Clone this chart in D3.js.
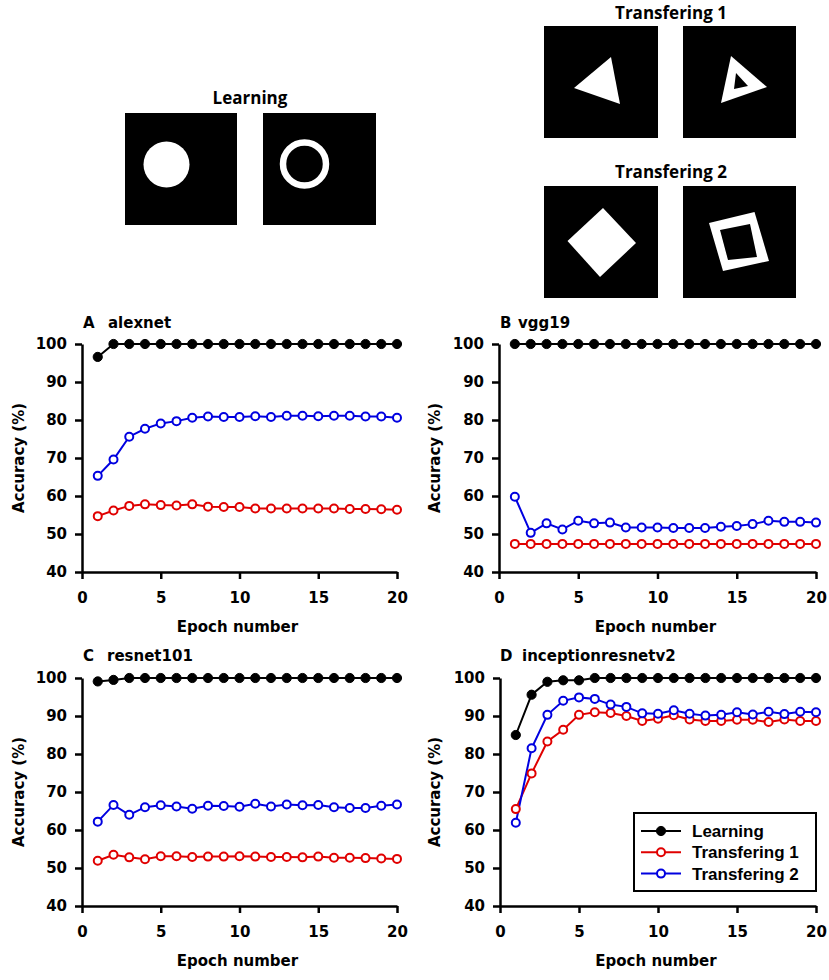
<!DOCTYPE html>
<html><head><meta charset="utf-8">
<script src="https://cdn.jsdelivr.net/npm/d3@7"></script>
<style>body{margin:0;background:#fff}</style>
</head><body>
<script>
// ---------- data ----------
const epochs = [1,2,3,4,5,6,7,8,9,10,11,12,13,14,15,16,17,18,19,20];
const xTicks = [0,5,10,15,20];
const yTicks = [40,50,60,70,80,90,100];
const seriesNames = ["Learning","Transfering 1","Transfering 2"];
const seriesColors = ["#000000","#e00000","#0000e0"];

const alexnetLearning = [96.6,100,100,100,100,100,100,100,100,100,100,100,100,100,100,100,100,100,100,100];
const alexnetT1 = [54.7,56.2,57.4,57.8,57.6,57.5,57.8,57.2,57.1,57.1,56.7,56.7,56.7,56.7,56.7,56.7,56.6,56.6,56.5,56.4];
const alexnetT2 = [65.3,69.6,75.6,77.7,79.1,79.7,80.6,80.9,80.8,80.8,81.0,80.8,81.1,81.1,81.0,81.1,81.1,80.9,80.9,80.6];

const vggLearning = [100,100,100,100,100,100,100,100,100,100,100,100,100,100,100,100,100,100,100,100];
const vggT1 = [47.4,47.4,47.4,47.4,47.4,47.4,47.4,47.4,47.4,47.4,47.4,47.4,47.4,47.4,47.4,47.4,47.4,47.4,47.4,47.4];
const vggT2 = [59.8,50.3,52.8,51.2,53.5,52.8,53.0,51.7,51.7,51.7,51.6,51.6,51.6,51.9,52.1,52.6,53.5,53.2,53.2,53.0];

const resnetLearning = [99.1,99.5,100,100,100,100,100,100,100,100,100,100,100,100,100,100,100,100,100,100];
const resnetT1 = [51.9,53.5,52.8,52.3,53.1,53.1,52.9,53.0,53.0,53.1,53.0,52.9,52.9,52.8,53.0,52.7,52.7,52.6,52.5,52.4];
const resnetT2 = [62.2,66.6,64.0,66.0,66.5,66.2,65.6,66.4,66.3,66.1,66.9,66.2,66.7,66.5,66.6,66.0,65.8,65.8,66.4,66.7];

const inceptionLearning = [85.0,95.6,99.0,99.4,99.4,100,100,100,100,100,100,100,100,100,100,100,100,100,100,100];
const inceptionT1 = [65.5,74.9,83.3,86.4,90.3,91.0,90.8,90.0,88.7,89.3,90.2,89.1,88.7,88.7,89.0,89.0,88.4,89.1,88.7,88.7];
const inceptionT2 = [61.9,81.5,90.3,94.0,94.9,94.5,93.0,92.4,90.7,90.6,91.5,90.6,90.1,90.3,91.0,90.4,91.1,90.5,91.1,91.0];

const panelLetters = ["A","B","C","D"];
const panelNames = ["alexnet","vgg19","resnet101","inceptionresnetv2"];

// ---------- drawing ----------
const svg = d3.select("body").append("svg").attr("width",829).attr("height",980)
  .style("font-family","'DejaVu Sans', sans-serif");

// Stimulus images
const imgFont = "'Open Sans', sans-serif";
function stimTitle(text, x, y){
  svg.append("text").attr("x",x).attr("y",y).attr("text-anchor","middle")
    .style("font-family",imgFont).style("font-weight","bold").style("font-size","17px").text(text);
}
function box(x,y,w,h){
  svg.append("rect").attr("x",x).attr("y",y).attr("width",w).attr("height",h).attr("fill","#000");
}
function poly(pts, fill){
  svg.append("polygon").attr("points",pts.map(p=>p.join(",")).join(" ")).attr("fill",fill);
}
stimTitle("Learning",250,104);
box(125,113,112,112); box(263,113,113,112);
svg.append("circle").attr("cx",166.5).attr("cy",164.5).attr("r",23).attr("fill","#fff");
svg.append("circle").attr("cx",304.5).attr("cy",164).attr("r",21.5).attr("fill","none").attr("stroke","#fff").attr("stroke-width",6.5);

stimTitle("Transfering 1",671,19);
box(544,26,114,112); box(683,26,113,112);
poly([[574,88],[611,57],[620,104]],"#fff");
poly([[721,103],[731,56],[767,87]],"#fff");
poly([[734,89],[736,73],[748,86]],"#000");

stimTitle("Transfering 2",671,178);
box(544,186,114,112); box(683,186,113,112);
poly([[567.5,241],[603,208],[636,243],[600,277]],"#fff");
poly([[709,223],[754.5,212],[769,261],[723,271]],"#fff");
poly([[720,230],[750,224],[757,257],[728,260]],"#000");

// Panels
const panels = [
  {x0:82, x1:397, y0:344, y1:572, letterX:83, nameX:108, titleY:328, ylabX:19, data:[alexnetLearning,alexnetT1,alexnetT2]},
  {x0:499, x1:816, y0:344, y1:572, letterX:500, nameX:518, titleY:328, ylabX:435, data:[vggLearning,vggT1,vggT2]},
  {x0:82, x1:397, y0:678, y1:906, letterX:83, nameX:107, titleY:661, ylabX:19, data:[resnetLearning,resnetT1,resnetT2]},
  {x0:500, x1:816, y0:678, y1:906, letterX:500, nameX:522, titleY:661, ylabX:435, data:[inceptionLearning,inceptionT1,inceptionT2]}
];

panels.forEach((p,i)=>{
  const x = d3.scaleLinear().domain([0,20]).range([p.x0,p.x1]);
  const y = d3.scaleLinear().domain([40,100]).range([p.y1,p.y0]);
  const g = svg.append("g");

  // axes
  const ax = g.append("g").attr("transform",`translate(0,${p.y1})`)
    .call(d3.axisBottom(x).tickValues(xTicks).tickSize(7).tickSizeOuter(0).tickPadding(13));
  const ay = g.append("g").attr("transform",`translate(${p.x0},0)`)
    .call(d3.axisLeft(y).tickValues(yTicks).tickSize(7).tickSizeOuter(0).tickPadding(8));
  [ax,ay].forEach(a=>{
    a.selectAll("path,line").attr("stroke","#000").attr("stroke-width",2.5);
    a.selectAll("text").attr("fill","#000")
      .style("font-family","'DejaVu Sans', sans-serif").style("font-weight","bold").style("font-size","15px");
  });

  // labels
  g.append("text").attr("x",(p.x0+p.x1)/2 - 2).attr("y",p.y1+60).attr("text-anchor","middle")
    .style("font-weight","bold").style("font-size","15px").text("Epoch number");
  g.append("text").attr("transform",`translate(${p.ylabX+5},${(p.y0+p.y1)/2}) rotate(-90)`)
    .attr("text-anchor","middle").style("font-weight","bold").style("font-size","15px").text("Accuracy (%)");
  g.append("text").attr("x",p.letterX).attr("y",p.titleY)
    .style("font-weight","bold").style("font-size","15px").text(panelLetters[i]);
  g.append("text").attr("x",p.nameX).attr("y",p.titleY)
    .style("font-weight","bold").style("font-size","15px").text(panelNames[i]);

  // series
  const line = d3.line().x((d,j)=>x(epochs[j])).y(d=>y(d));
  p.data.forEach((vals,s)=>{
    g.append("path").datum(vals).attr("d",line).attr("fill","none")
      .attr("stroke",seriesColors[s]).attr("stroke-width",2);
  });
  p.data.forEach((vals,s)=>{
    g.selectAll(null).data(vals).enter().append("circle")
      .attr("cx",(d,j)=>x(epochs[j])).attr("cy",d=>y(d))
      .attr("r", s===0 ? 4.6 : 4)
      .attr("fill", s===0 ? "#000" : "#fff")
      .attr("stroke",seriesColors[s]).attr("stroke-width", s===0 ? 1 : 2);
  });

  // legend in panel D
  if(i===3){
    const lg = g.append("g");
    lg.append("rect").attr("x",634).attr("y",813).attr("width",182).attr("height",78)
      .attr("fill","#fff").attr("stroke","#000").attr("stroke-width",2);
    seriesNames.forEach((n,s)=>{
      const yy = 831 + s*21.3;
      lg.append("line").attr("x1",641).attr("x2",681).attr("y1",yy).attr("y2",yy)
        .attr("stroke",seriesColors[s]).attr("stroke-width",2);
      lg.append("circle").attr("cx",661).attr("cy",yy).attr("r",s===0?4.6:4)
        .attr("fill",s===0?"#000":"#fff").attr("stroke",seriesColors[s]).attr("stroke-width",s===0?1:2);
      lg.append("text").attr("x",692).attr("y",yy).attr("dy","0.36em")
        .style("font-family","'Liberation Sans', Arial, sans-serif").style("font-weight","bold")
        .style("font-size","17px").text(n);
    });
  }
});
</script>
</body></html>
